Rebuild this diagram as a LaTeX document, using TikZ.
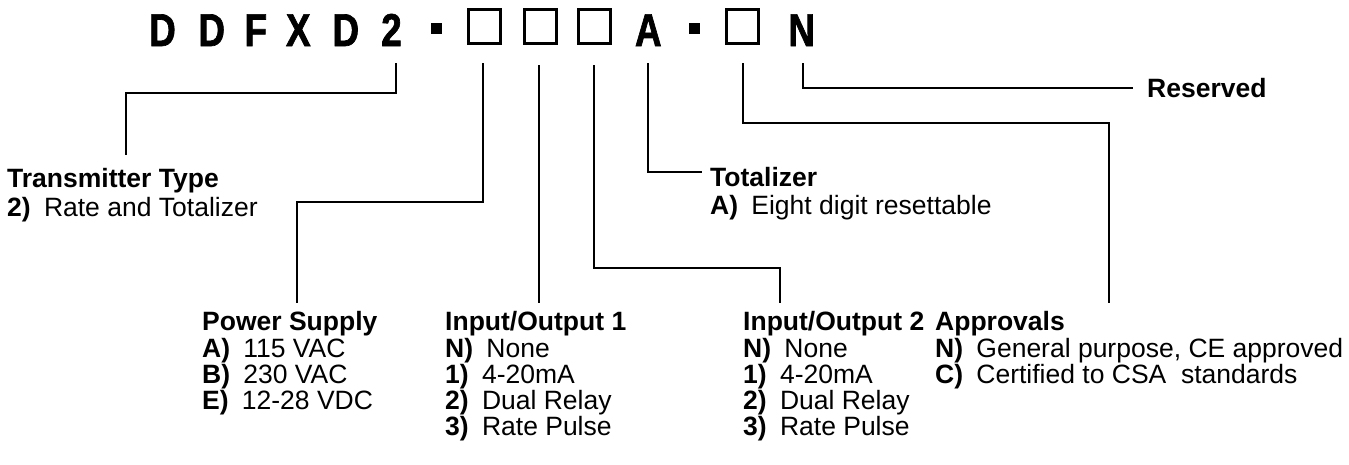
\documentclass[tikz,border=0pt]{standalone}
\usepackage{fontspec}
\setmainfont{Liberation Sans}
\newfontfamily\ttlfont[FakeStretch=0.8,FakeBold=1.5]{Liberation Sans Bold}
\begin{document}
\begin{tikzpicture}[x=1pt,y=-1pt,
  conn/.style={line width=1.8pt},
  ttl/.style={anchor=base, inner sep=0, font=\fontsize{46}{46}\ttlfont},
  slot/.style={draw, line width=3pt, minimum width=32pt, minimum height=33.7pt, inner sep=0},
  dotsq/.style={fill, minimum size=11pt, inner sep=0},
  lbl/.style={anchor=base west, inner sep=0, font=\fontsize{26.5}{30}\selectfont},
  hdr/.style={lbl, font=\fontsize{26.5}{30}\selectfont\bfseries}]
\useasboundingbox (0,0) rectangle (1349,464);
% title
\node[ttl] (c1) at (162.5,46) {D};
\node[ttl] (c2) at (211.7,46) {D};
\node[ttl] (c3) at (255.8,46) {F};
\node[ttl] (c4) at (298.3,46) {X};
\node[ttl] (c5) at (345.8,46) {D};
\node[ttl] (c6) at (391.5,46) {2};
\node[dotsq] (d1) at (436,28) {};
\node[slot] (b1) at (484.2,26.65) {};
\node[slot] (b2) at (540.8,26.65) {};
\node[slot] (b3) at (594.5,26.65) {};
\node[ttl] (cA) at (648.3,46) {A};
\node[dotsq] (d2) at (694,28) {};
\node[slot] (b4) at (742,26.65) {};
\node[ttl] (cN) at (801.7,46) {N};
% connector start points
\coordinate (s2) at (396,63);
\coordinate (s3) at (482.7,63);
\coordinate (s4) at (539.3,65);
\coordinate (s5) at (594,65);
\coordinate (s6) at (647.7,63);
\coordinate (s7) at (743.3,63);
\coordinate (s8) at (803.3,63);
% connector end points
\coordinate (e2) at (126,155);
\coordinate (e3) at (297.3,303.3);
\coordinate (e4) at (539.3,303.3);
\coordinate (e5) at (780,303.3);
\coordinate (e6) at (701.7,171.7);
\coordinate (e7) at (1109.3,303.3);
\coordinate (e8) at (1133.3,87.7);
% labels
\node[hdr] (tt) at (7,187.3) {Transmitter Type};
\node[lbl] (tt1) at (7,216.7) {\textbf{2)}\hspace{0.5em}Rate and Totalizer};
\node[hdr] (to) at (710,186.7) {Totalizer};
\node[lbl] (to1) at (710,214.5) {\textbf{A)}\hspace{0.5em}Eight digit resettable};
\node[hdr] (rs) at (1147,97) {Reserved};
\node[hdr] (ps) at (202,330) {Power Supply};
\node[lbl] (ps1) at (202,357) {\textbf{A)}\hspace{0.5em}115 VAC};
\node[lbl] (ps2) at (202,383) {\textbf{B)}\hspace{0.5em}230 VAC};
\node[lbl] (ps3) at (202,409) {\textbf{E)}\hspace{0.5em}12-28 VDC};
\node[hdr] (ia) at (445,330) {Input/Output 1};
\node[lbl] (ia1) at (445,357) {\textbf{N)}\hspace{0.5em}None};
\node[lbl] (ia2) at (445,383) {\textbf{1)}\hspace{0.5em}4-20mA};
\node[lbl] (ia3) at (445,409) {\textbf{2)}\hspace{0.5em}Dual Relay};
\node[lbl] (ia4) at (445,435) {\textbf{3)}\hspace{0.5em}Rate Pulse};
\node[hdr] (ib) at (743,330) {Input/Output 2};
\node[lbl] (ib1) at (743,357) {\textbf{N)}\hspace{0.5em}None};
\node[lbl] (ib2) at (743,383) {\textbf{1)}\hspace{0.5em}4-20mA};
\node[lbl] (ib3) at (743,409) {\textbf{2)}\hspace{0.5em}Dual Relay};
\node[lbl] (ib4) at (743,435) {\textbf{3)}\hspace{0.5em}Rate Pulse};
\node[hdr] (ap) at (935,330) {Approvals};
\node[lbl] (ap1) at (935,357) {\textbf{N)}\hspace{0.5em}General purpose, CE approved};
\node[lbl] (ap2) at (935,383) {\textbf{C)}\hspace{0.5em}Certified to CSA\ \ standards};
% connectors
\draw[conn] (s2) -- ++(0,30.3) -| (e2);
\draw[conn] (s3) -- ++(0,138.7) -| (e3);
\draw[conn] (s4) -- (e4);
\draw[conn] (s5) -- ++(0,203.3) -| (e5);
\draw[conn] (s6) |- (e6);
\draw[conn] (s7) -- ++(0,60.3) -| (e7);
\draw[conn] (s8) |- (e8);
\end{tikzpicture}
\end{document}
